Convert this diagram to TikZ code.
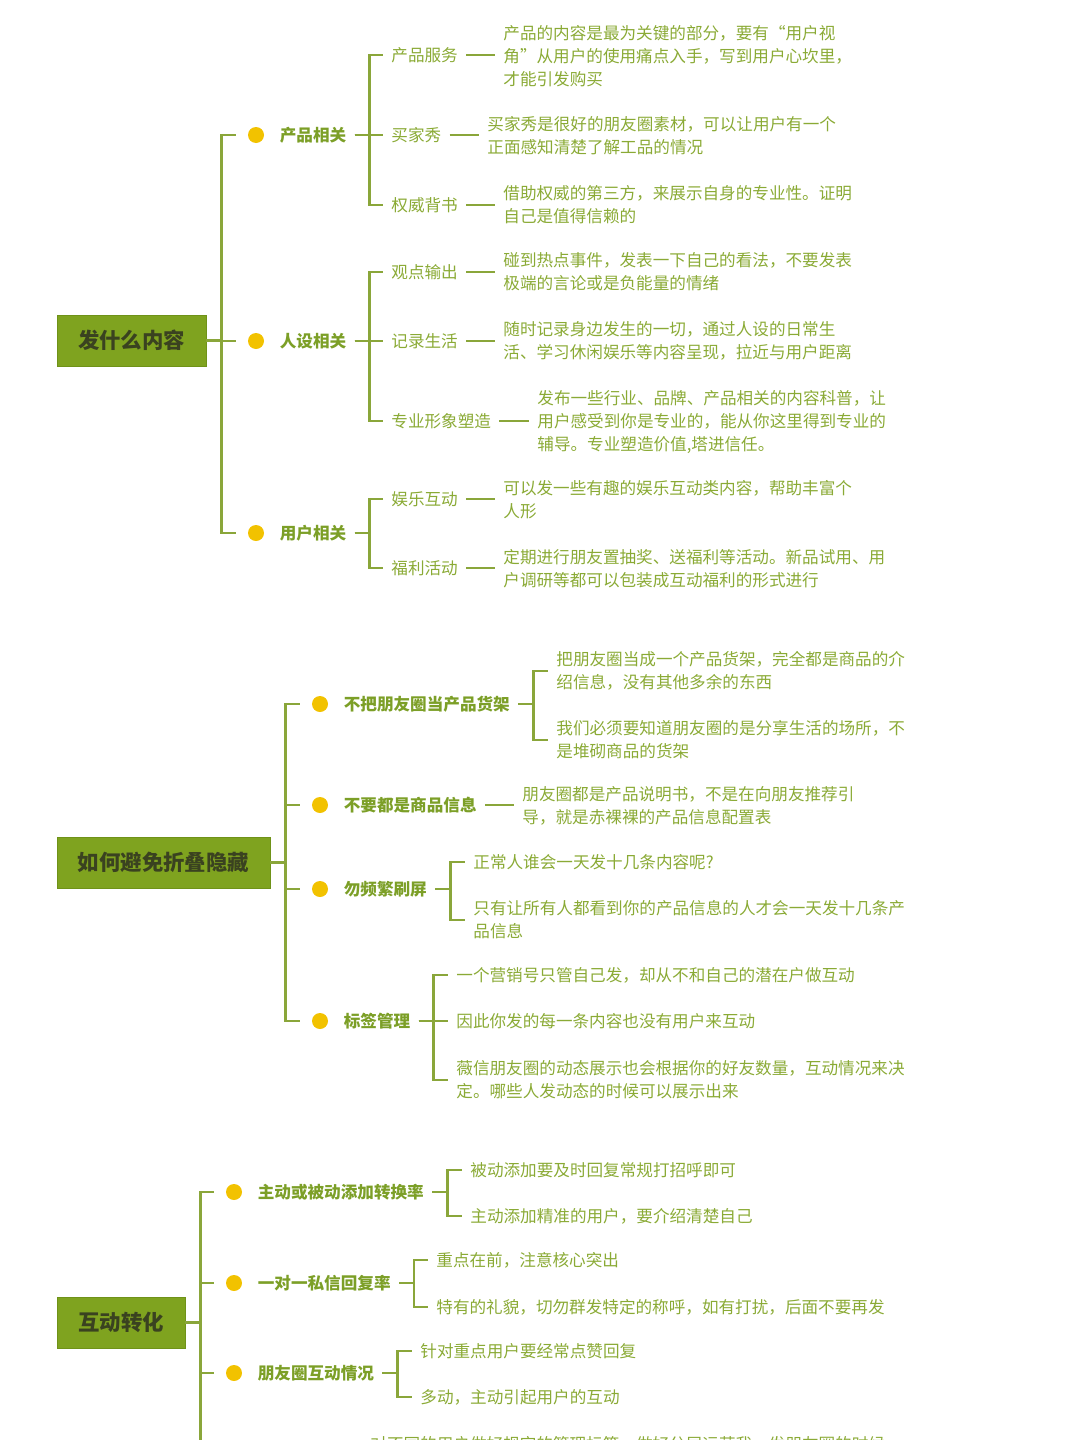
\documentclass[tikz,border=0pt]{standalone}
\usepackage{fontspec}
\setmainfont{Noto Sans CJK SC}
\usepackage{xcolor}
\usepackage{tikz}
\usetikzlibrary{positioning}

\definecolor{boxgreen}{HTML}{7FA31F}
\definecolor{boxedge}{HTML}{6F9218}
\definecolor{rootink}{HTML}{3A4220}
\definecolor{dotyellow}{HTML}{F2C200}
\definecolor{topicink}{HTML}{7C9F27}
\definecolor{leafink}{HTML}{8AAA35}
\definecolor{linkgreen}{HTML}{8AA63A}

\tikzset{
  root/.style={rectangle, draw=boxedge, fill=boxgreen, text=rootink, inner sep=0pt,
    minimum height=25.5pt, font=\fontsize{10.7pt}{13pt}\selectfont\bfseries},
  dot/.style={circle, fill=dotyellow, minimum size=8pt, inner sep=0pt},
  topic/.style={anchor=west, inner sep=0pt, text=topicink,
    font=\fontsize{8.3pt}{11.5pt}\selectfont\bfseries},
  sub/.style={anchor=west, inner sep=0pt, text=leafink,
    font=\fontsize{8.3pt}{11.5pt}\selectfont},
  leaf/.style={anchor=west, inner sep=0pt, align=left, text=leafink,
    font=\fontsize{8.3pt}{11.5pt}\selectfont},
  link/.style={draw=linkgreen, line width=1.4pt}
}

\begin{document}
\begin{tikzpicture}[x=0.5pt, y=-0.5pt]
    \useasboundingbox (0,0) rectangle (1080,1440);
    \clip (0,0) rectangle (1080,1440);

    \node[root, minimum width=74.5pt] (r1) at (131.5,340.5) {发什么内容};
    \node[dot] (d11) at (256,135) {};
    \node[dot] (d12) at (256,341) {};
    \node[dot] (d13) at (256,533) {};
    \node[topic, right=7.5pt of d11] (t11) {产品相关};
    \node[topic, right=7.5pt of d12] (t12) {人设相关};
    \node[topic, right=7.5pt of d13] (t13) {用户相关};

    \node[sub] (s111) at (391,55) {产品服务};
    \node[sub] (s112) at (391,135) {买家秀};
    \node[sub] (s113) at (391,205) {权威背书};
    \node[sub] (s121) at (391,272) {观点输出};
    \node[sub] (s122) at (391,341) {记录生活};
    \node[sub] (s123) at (391,421) {专业形象塑造};
    \node[sub] (s131) at (391,499) {娱乐互动};
    \node[sub] (s132) at (391,568) {福利活动};

    \node[leaf] (l111) at (503,56) {产品的内容是最为关键的部分，要有“用户视\\角”从用户的使用痛点入手，写到用户心坎里，\\才能引发购买};
    \node[leaf] (l112) at (487,136) {买家秀是很好的朋友圈素材，可以让用户有一个\\正面感知清楚了解工品的情况};
    \node[leaf] (l113) at (503,205) {借助权威的第三方，来展示自身的专业性。证明\\自己是值得信赖的};
    \node[leaf] (l121) at (503,272) {碰到热点事件，发表一下自己的看法，不要发表\\极端的言论或是负能量的情绪};
    \node[leaf] (l122) at (503,341) {随时记录身边发生的一切，通过人设的日常生\\活、学习休闲娱乐等内容呈现，拉近与用户距离};
    \node[leaf] (l123) at (537,422) {发布一些行业、品牌、产品相关的内容科普，让\\用户感受到你是专业的，能从你这里得到专业的\\辅导。专业塑造价值,塔进信任。};
    \node[leaf] (l131) at (503,500) {可以发一些有趣的娱乐互动类内容，帮助丰富个\\人形};
    \node[leaf] (l132) at (503,569) {定期进行朋友置抽奖、送福利等活动。新品试用、用\\户调研等都可以包装成互动福利的形式进行};

    \draw[link] (r1.east) -- ++(15,0) |- ([xshift=-6pt]d11.west);
    \draw[link] (r1.east) -- ++(15,0) |- ([xshift=-6pt]d12.west);
    \draw[link] (r1.east) -- ++(15,0) |- ([xshift=-6pt]d13.west);
    \draw[link] ([xshift=4pt]t11.east) -- ++(15,0) |- ([xshift=-4pt]s111.west);
    \draw[link] ([xshift=4pt]t11.east) -- ++(15,0) |- ([xshift=-4pt]s112.west);
    \draw[link] ([xshift=4pt]t11.east) -- ++(15,0) |- ([xshift=-4pt]s113.west);
    \draw[link] ([xshift=4pt]t12.east) -- ++(15,0) |- ([xshift=-4pt]s121.west);
    \draw[link] ([xshift=4pt]t12.east) -- ++(15,0) |- ([xshift=-4pt]s122.west);
    \draw[link] ([xshift=4pt]t12.east) -- ++(15,0) |- ([xshift=-4pt]s123.west);
    \draw[link] ([xshift=4pt]t13.east) -- ++(15,0) |- ([xshift=-4pt]s131.west);
    \draw[link] ([xshift=4pt]t13.east) -- ++(15,0) |- ([xshift=-4pt]s132.west);
    \draw[link] ([xshift=4pt]s111.east) -- ([xshift=-4pt]s111.east -| l111.west);
    \draw[link] ([xshift=4pt]s112.east) -- ([xshift=-4pt]s112.east -| l112.west);
    \draw[link] ([xshift=4pt]s113.east) -- ([xshift=-4pt]s113.east -| l113.west);
    \draw[link] ([xshift=4pt]s121.east) -- ([xshift=-4pt]s121.east -| l121.west);
    \draw[link] ([xshift=4pt]s122.east) -- ([xshift=-4pt]s122.east -| l122.west);
    \draw[link] ([xshift=4pt]s123.east) -- ([xshift=-4pt]s123.east -| l123.west);
    \draw[link] ([xshift=4pt]s131.east) -- ([xshift=-4pt]s131.east -| l131.west);
    \draw[link] ([xshift=4pt]s132.east) -- ([xshift=-4pt]s132.east -| l132.west);

    \node[root, minimum width=106.5pt] (r2) at (163.5,862.5) {如何避免折叠隐藏};
    \node[dot] (d21) at (320,704) {};
    \node[dot] (d22) at (320,805) {};
    \node[dot] (d23) at (320,889) {};
    \node[dot] (d24) at (320,1021) {};
    \node[topic, right=7.5pt of d21] (t21) {不把朋友圈当产品货架};
    \node[topic, right=7.5pt of d22] (t22) {不要都是商品信息};
    \node[topic, right=7.5pt of d23] (t23) {勿频繁刷屏};
    \node[topic, right=7.5pt of d24] (t24) {标签管理};

    \node[leaf] (l211) at (556,671) {把朋友圈当成一个产品货架，完全都是商品的介\\绍信息，没有其他多余的东西};
    \node[leaf] (l212) at (556,740) {我们必须要知道朋友圈的是分享生活的场所，不\\是堆砌商品的货架};
    \node[leaf] (l221) at (522,806) {朋友圈都是产品说明书，不是在向朋友推荐引\\导，就是赤裸裸的产品信息配置表};
    \node[leaf] (l231) at (473,862) {正常人谁会一天发十几条内容呢?};
    \node[leaf] (l232) at (473,920) {只有让所有人都看到你的产品信息的人才会一天发十几条产\\品信息};
    \node[leaf] (l241) at (456,975) {一个营销号只管自己发，却从不和自己的潜在户做互动};
    \node[leaf] (l242) at (456,1021) {因此你发的每一条内容也没有用户来互动};
    \node[leaf] (l243) at (456,1080) {薇信朋友圈的动态展示也会根据你的好友数量，互动情况来决\\定。哪些人发动态的时候可以展示出来};

    \draw[link] (r2.east) -- ++(15,0) |- ([xshift=-6pt]d21.west);
    \draw[link] (r2.east) -- ++(15,0) |- ([xshift=-6pt]d22.west);
    \draw[link] (r2.east) -- ++(15,0) |- ([xshift=-6pt]d23.west);
    \draw[link] (r2.east) -- ++(15,0) |- ([xshift=-6pt]d24.west);
    \draw[link] ([xshift=4pt]t21.east) -- ++(15,0) |- ([xshift=-4pt]l211.west);
    \draw[link] ([xshift=4pt]t21.east) -- ++(15,0) |- ([xshift=-4pt]l212.west);
    \draw[link] ([xshift=4pt]t22.east) -- ([xshift=-4pt]t22.east -| l221.west);
    \draw[link] ([xshift=4pt]t23.east) -- ++(15,0) |- ([xshift=-4pt]l231.west);
    \draw[link] ([xshift=4pt]t23.east) -- ++(15,0) |- ([xshift=-4pt]l232.west);
    \draw[link] ([xshift=4pt]t24.east) -- ++(15,0) |- ([xshift=-4pt]l241.west);
    \draw[link] ([xshift=4pt]t24.east) -- ++(15,0) |- ([xshift=-4pt]l242.west);
    \draw[link] ([xshift=4pt]t24.east) -- ++(15,0) |- ([xshift=-4pt]l243.west);

    \node[root, minimum width=64pt] (r3) at (121,1322.5) {互动转化};
    \node[dot] (d31) at (234,1192) {};
    \node[dot] (d32) at (234,1283) {};
    \node[dot] (d33) at (234,1373) {};
    \coordinate (c34) at (215,1470);
    \node[topic, right=7.5pt of d31] (t31) {主动或被动添加转换率};
    \node[topic, right=7.5pt of d32] (t32) {一对一私信回复率};
    \node[topic, right=7.5pt of d33] (t33) {朋友圈互动情况};

    \node[leaf] (l311) at (470,1170) {被动添加要及时回复常规打招呼即可};
    \node[leaf] (l312) at (470,1216) {主动添加精准的用户，要介绍清楚自己};
    \node[leaf] (l321) at (436,1260) {重点在前，注意核心突出};
    \node[leaf] (l322) at (436,1307) {特有的礼貌，切勿群发特定的称呼，如有打扰，后面不要再发};
    \node[leaf] (l331) at (420,1351) {针对重点用户要经常点赞回复};
    \node[leaf] (l332) at (420,1397) {多动，主动引起用户的互动};
    \node[leaf] (l341) at (370,1444) {对不同的用户做好规定的管理标签，做好分层运营我，发朋友圈的时候};

    \draw[link] (r3.east) -- ++(15,0) |- ([xshift=-6pt]d31.west);
    \draw[link] (r3.east) -- ++(15,0) |- ([xshift=-6pt]d32.west);
    \draw[link] (r3.east) -- ++(15,0) |- ([xshift=-6pt]d33.west);
    \draw[link] (r3.east) -- ++(15,0) |- (c34);
    \draw[link] ([xshift=4pt]t31.east) -- ++(15,0) |- ([xshift=-4pt]l311.west);
    \draw[link] ([xshift=4pt]t31.east) -- ++(15,0) |- ([xshift=-4pt]l312.west);
    \draw[link] ([xshift=4pt]t32.east) -- ++(15,0) |- ([xshift=-4pt]l321.west);
    \draw[link] ([xshift=4pt]t32.east) -- ++(15,0) |- ([xshift=-4pt]l322.west);
    \draw[link] ([xshift=4pt]t33.east) -- ++(15,0) |- ([xshift=-4pt]l331.west);
    \draw[link] ([xshift=4pt]t33.east) -- ++(15,0) |- ([xshift=-4pt]l332.west);
\end{tikzpicture}
\end{document}
